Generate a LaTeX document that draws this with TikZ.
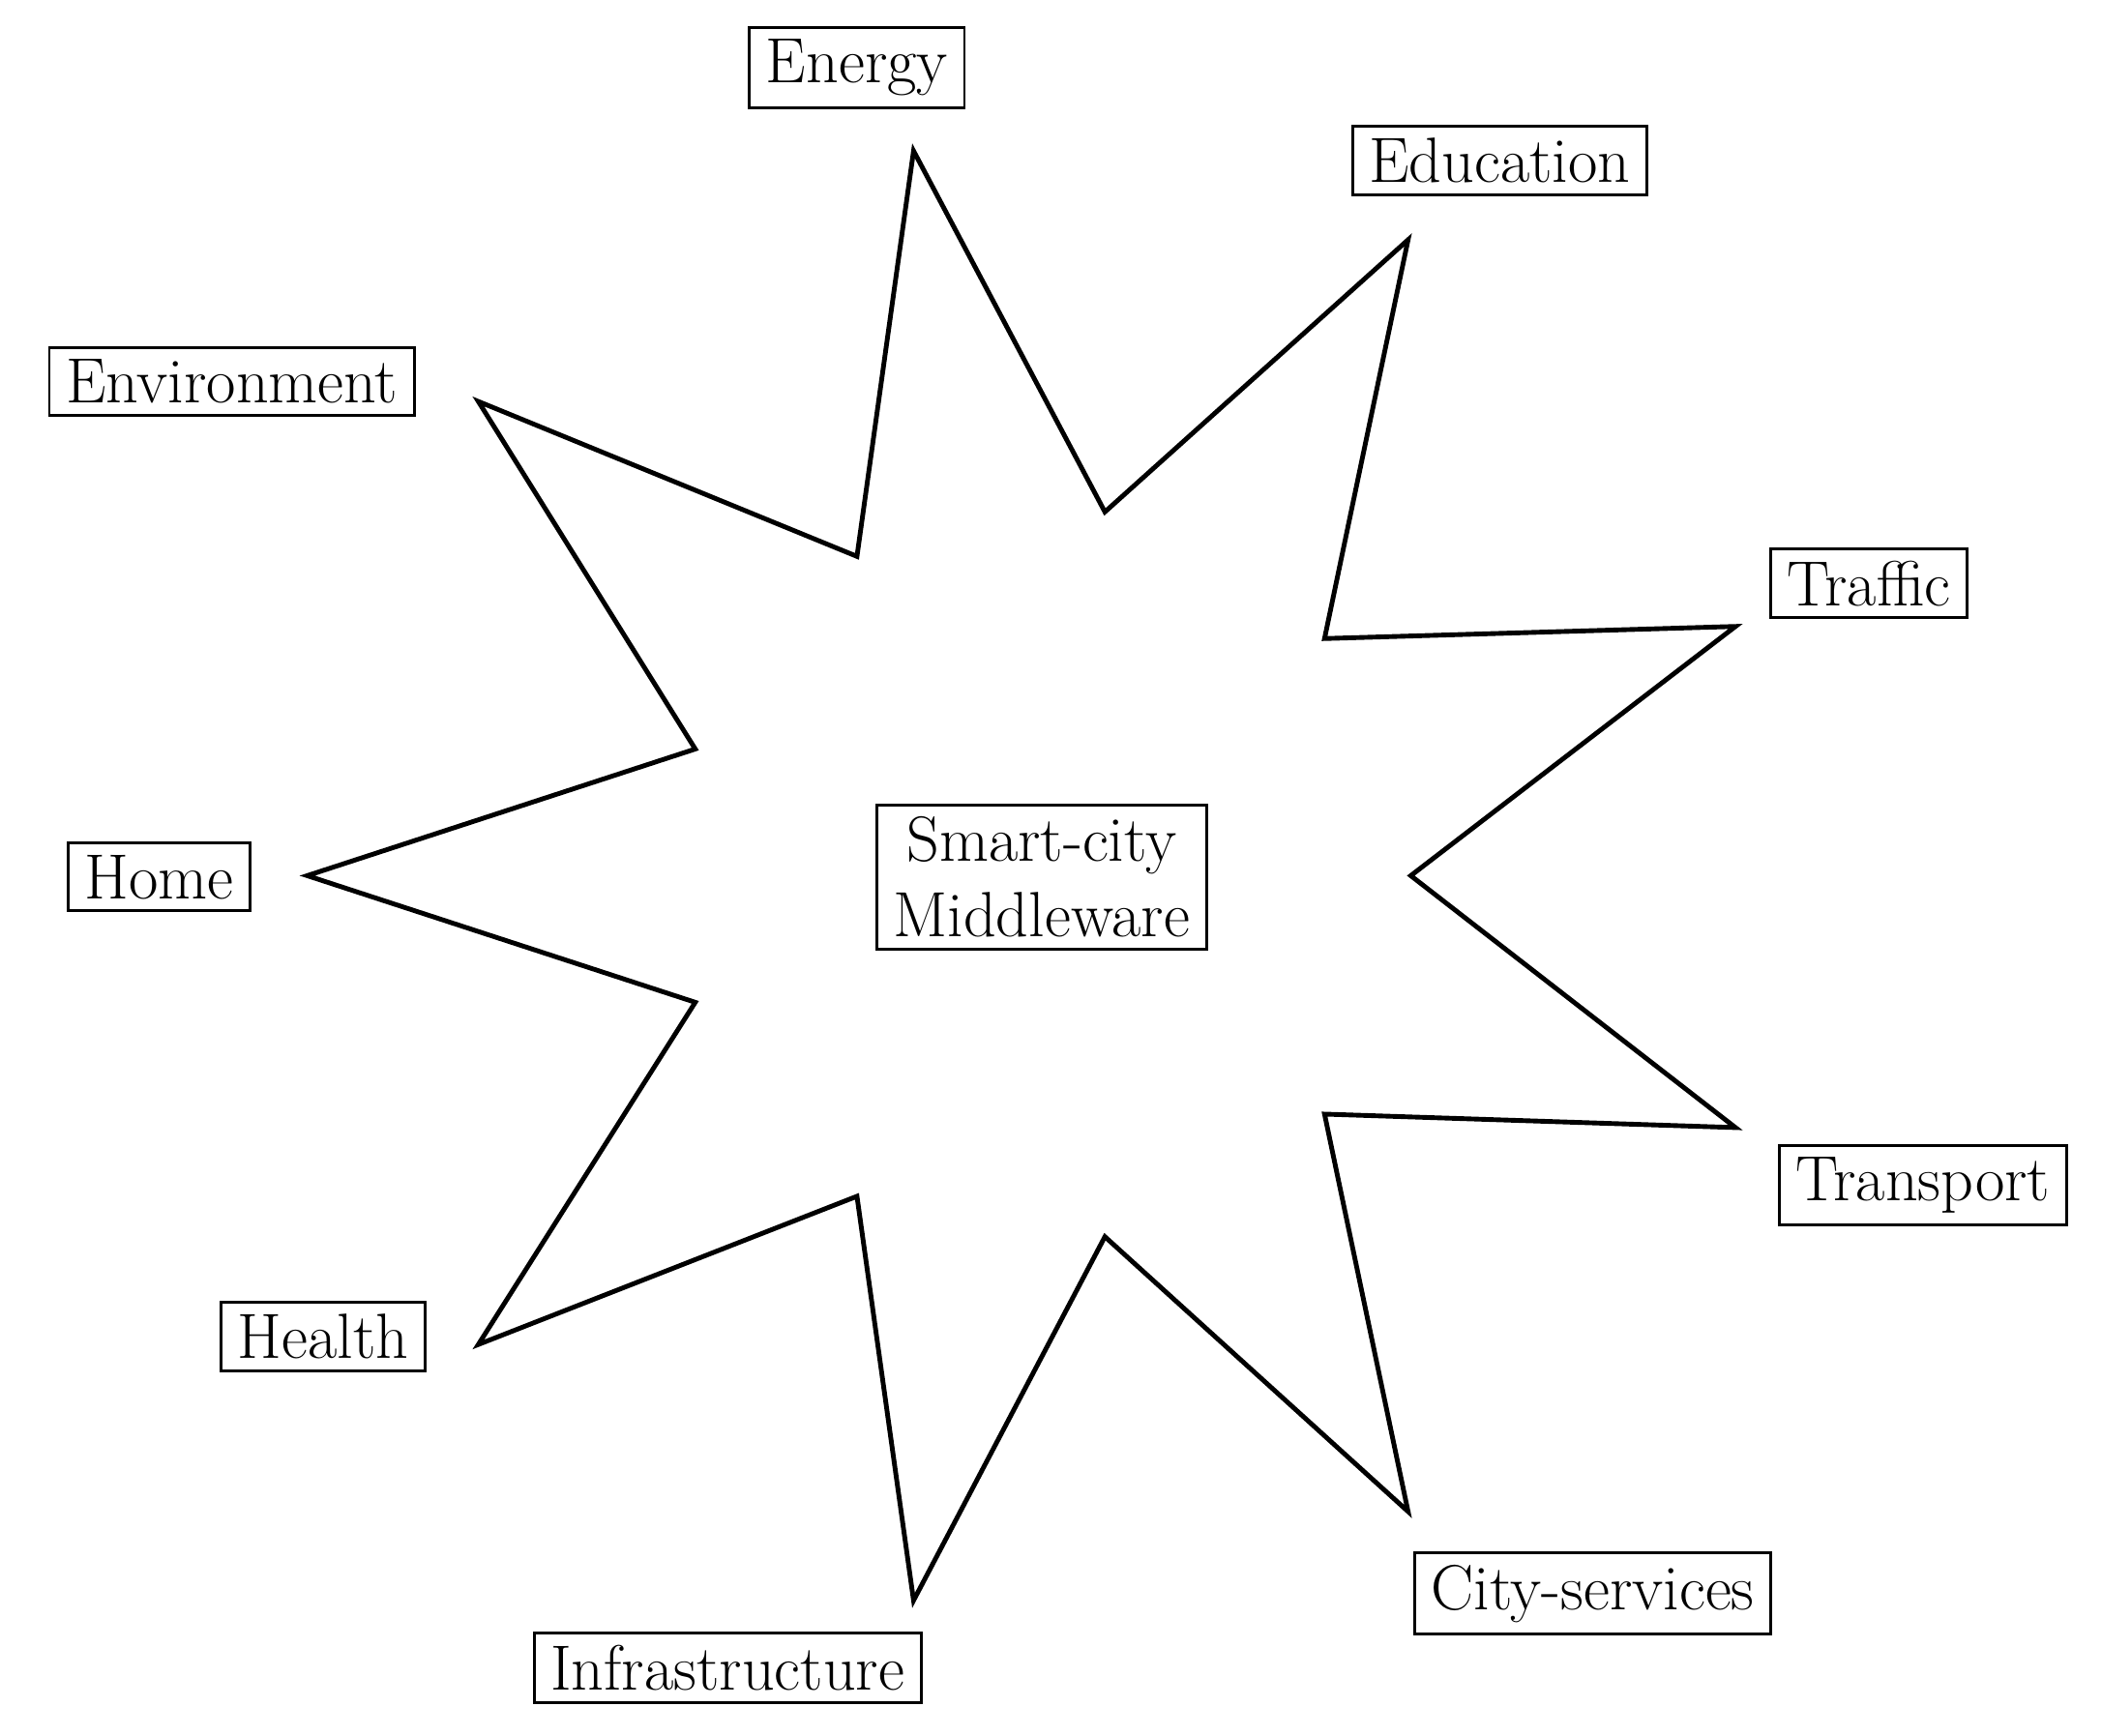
\documentclass[tikz,border=0pt]{standalone}
\begin{document}
\begin{tikzpicture}[x=0.02cm,y=-0.02cm,
  lab/.style={draw,line width=1.2pt,font=\fontsize{27}{32}\selectfont,inner xsep=7pt,inner ysep=5pt,align=center}]
\useasboundingbox (0,0) rectangle (1560,1288);
\draw[line width=2pt,line join=miter] (678,112) -- (820,380) -- (1045,178) -- (983,474) -- (1288,465) -- (1047,650) -- (1288,837) -- (983,827) -- (1045,1122) -- (820,918) -- (678,1188) -- (636,888) -- (355,998) -- (516,744) -- (228,650) -- (516,556) -- (355,298) -- (636,413) -- cycle;
\node[lab] (mw) at (773,651) {Smart-city\\Middleware};
\node[lab] (en) at (636,50) {Energy};
\node[lab] (ed) at (1113,119) {Education};
\node[lab] (ev) at (172,283) {Environment};
\node[lab] (tr) at (1387,433) {Traffic};
\node[lab] (ho) at (118,651) {Home};
\node[lab] (ts) at (1427,880) {Transport};
\node[lab] (he) at (240,992) {Health};
\node[lab] (cs) at (1182,1183) {City-services};
\node[lab] (in) at (540,1238) {Infrastructure};
\end{tikzpicture}
\end{document}
